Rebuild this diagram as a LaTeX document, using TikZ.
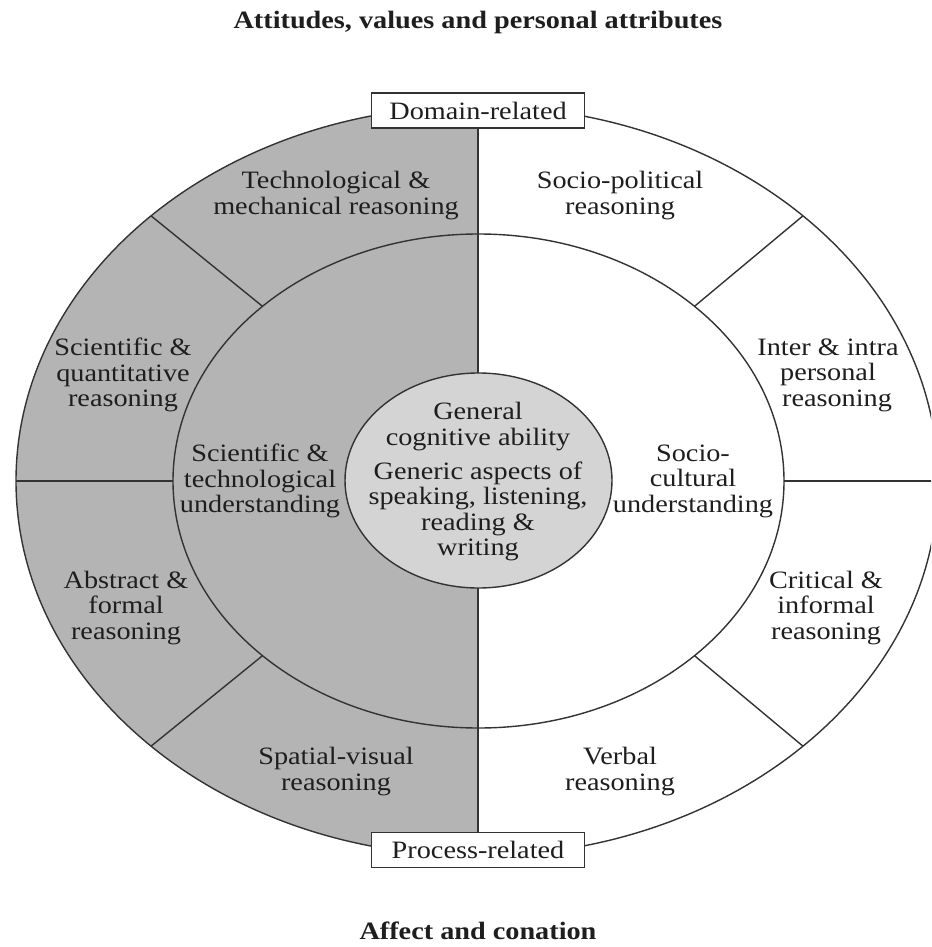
\documentclass[tikz,border=0pt]{standalone}
\usepackage{fontspec}
\setmainfont[FakeStretch=1.13]{Liberation Serif}
\definecolor{halfgray}{HTML}{B4B4B4}
\definecolor{coregray}{HTML}{D4D4D4}
\definecolor{ink}{HTML}{333333}
\definecolor{txt}{HTML}{1E1E1E}
\begin{document}
\begin{tikzpicture}[x=1pt,y=-1pt,
  rim/.style={draw=ink, line width=1.4pt},
  label/.style={align=center, inner sep=0pt, text=txt,
    font=\fontsize{25pt}{25.5pt}\selectfont},
  tag/.style={draw=ink, line width=1.6pt, fill=white, text=txt,
    minimum width=213pt, minimum height=35pt, inner sep=0pt,
    font=\fontsize{25pt}{25.5pt}\selectfont},
  heading/.style={inner sep=0pt, text=txt,
    font=\fontsize{25pt}{25.5pt}\selectfont\bfseries}]
% page frame (y grows downwards)
\clip (0,0) rectangle (931,947);
\fill[white] (0,0) rectangle (931,947);

% centres of the three rings
\coordinate (oc) at (477,481);
\coordinate (mc) at (478.5,481);
\coordinate (ic) at (478.5,480.5);

% shaded left half of the two outer rings
\begin{scope}
  \clip (0,0) rectangle (478,947);
  \fill[halfgray] (oc) ellipse [x radius=461pt, y radius=375pt];
\end{scope}

% ring outlines
\draw[rim] (oc) ellipse [x radius=461pt, y radius=375pt];
\draw[rim] (mc) ellipse [x radius=305.5pt, y radius=247pt];

% sector dividers between the rings
\coordinate (ulo) at (151,215.8);   \coordinate (uli) at (262.5,306.3);
\coordinate (uro) at (803,215.8);   \coordinate (uri) at (694.5,306.3);
\coordinate (llo) at (151,746.2);   \coordinate (lli) at (262.5,655.7);
\coordinate (lro) at (803,746.2);   \coordinate (lri) at (694.5,655.7);
\coordinate (lho) at (16,481);      \coordinate (lhi) at (173,481);
\coordinate (rho) at (938,481);     \coordinate (rhi) at (784,481);
\draw[rim] (ulo) -- (uli);
\draw[rim] (uro) -- (uri);
\draw[rim] (llo) -- (lli);
\draw[rim] (lro) -- (lri);
\draw[rim] (lho) -- (lhi);
\draw[rim] (rho) -- (rhi);

% axis labels
\node[tag] (dom) at (478,110.5) {Domain-related};
\node[tag] (proc) at (478,850) {Process-related};
\draw[rim] (dom.south) -- (proc.north);

% core
\draw[rim, fill=coregray] (ic) ellipse [x radius=133.5pt, y radius=107.5pt];

% headings
\node[heading] (attitudes) at (478,22) {Attitudes, values and personal attributes};
\node[heading] (affect) at (478,931) {Affect and conation};

% outer ring
\node[label] (tech) at (336,195.5) {Technological \&\\mechanical reasoning};
\node[label] (socpol) at (620,195.5) {Socio-political\\reasoning};
\node[label] (sciq) at (123,375) {Scientific \&\\quantitative\\reasoning};
\node[label] (inter) at (828,375) {Inter \& intra\\personal\\\hspace*{18pt}reasoning};
\node[label] (abstr) at (126,608) {Abstract \&\\formal\\reasoning};
\node[label] (crit) at (826,608) {Critical \&\\informal\\reasoning};
\node[label] (spat) at (336,771.5) {Spatial-visual\\reasoning};
\node[label] (verb) at (620,771.5) {Verbal\\reasoning};

% middle ring
\node[label] (scitech) at (260,481) {Scientific \&\\technological\\understanding};
\node[label] (soccult) at (693,481) {Socio-\\cultural\\understanding};

% core text
\node[label] (gca) at (478,426.5) {General\\cognitive ability};
\node[label] (gen) at (478,511.5) {Generic aspects of\\speaking, listening,\\reading \&\\writing};
\end{tikzpicture}
\end{document}
